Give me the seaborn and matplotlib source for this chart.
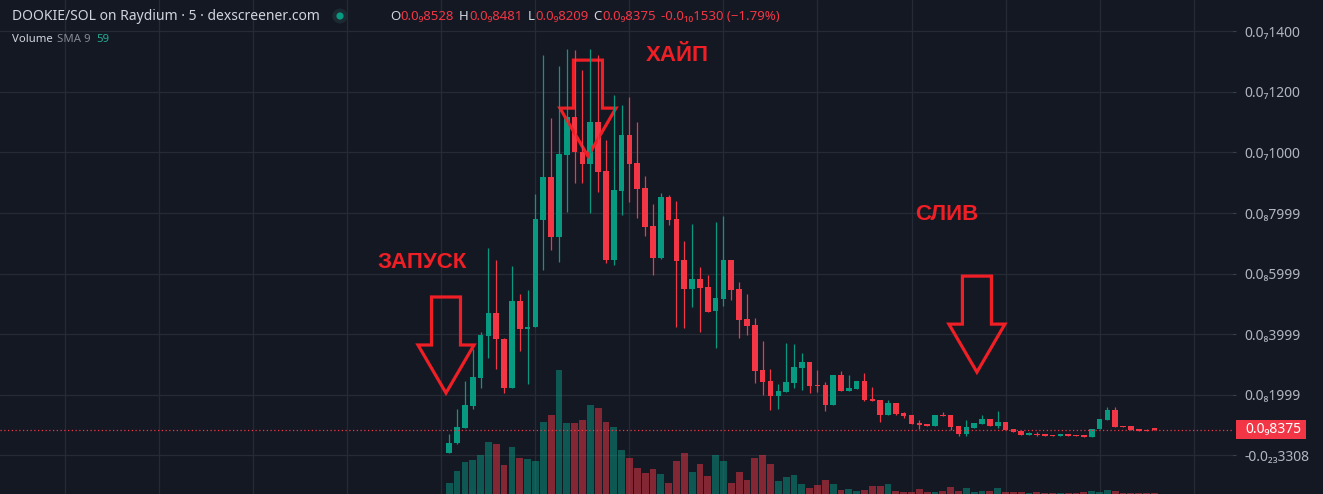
import numpy as np
import pandas as pd
import matplotlib
matplotlib.use("Agg")
import matplotlib.pyplot as plt
import seaborn as sns
from matplotlib.transforms import Affine2D, ScaledTranslation, blended_transform_factory, IdentityTransform
from matplotlib.patches import Polygon, Rectangle, Circle

# ---------------- data (price in units of 1e-9 SOL) ----------------
opens = [0.06, 0.39, 0.90, 1.63, 2.56, 3.94, 4.68, 3.84, 2.23, 5.09,
         4.16, 4.22, 7.77, 9.20, 7.22, 9.92, 11.18, 10.03, 9.62, 11.02,
         9.39, 6.45, 8.73, 10.58, 9.64, 8.83, 7.57, 6.51, 8.54, 7.80,
         6.46, 5.49, 5.82, 5.56, 4.76, 5.16, 6.45, 5.49, 4.50, 4.30,
         2.81, 2.45, 1.95, 2.08, 2.38, 2.88, 3.08, 2.31, 2.31, 1.65,
         2.65, 2.12, 2.18, 2.45, 1.85, 1.82, 1.32, 1.72, 1.39, 1.32,
         1.06, 1.03, 0.96, 1.32, 1.32, 0.96, 0.69, 0.89, 1.03, 1.19,
         0.96, 1.09, 0.86, 0.80, 0.66, 0.69, 0.69, 0.66, 0.63, 0.69,
         0.66, 0.66, 0.60, 0.86, 1.16, 1.49, 0.96, 0.96, 0.86, 0.83,
         0.8528]
highs = [0.68, 1.52, 2.45, 3.50, 4.06, 6.83, 6.45, 3.86, 6.25, 5.32,
         5.46, 8.63, 13.22, 11.15, 12.86, 13.41, 13.39, 12.73, 13.41, 13.22,
         10.41, 11.90, 11.57, 11.83, 11.02, 9.22, 8.30, 8.66, 8.60, 8.40,
         7.08, 7.64, 6.22, 5.95, 7.70, 7.90, 6.45, 5.71, 5.32, 4.53,
         3.77, 2.84, 2.35, 3.70, 3.68, 3.38, 3.08, 2.81, 2.41, 2.65,
         2.78, 2.65, 2.45, 2.71, 2.25, 1.82, 1.82, 1.72, 1.43, 1.32,
         1.16, 1.03, 1.32, 1.42, 1.32, 0.96, 1.16, 1.06, 1.32, 1.19,
         1.46, 1.09, 0.86, 0.80, 0.75, 0.75, 0.69, 0.66, 0.69, 0.69,
         0.66, 0.66, 0.86, 1.19, 1.59, 1.59, 0.96, 0.96, 0.86, 0.85,
         0.8528]
lows = [0.06, 0.36, 0.88, 1.51, 2.23, 3.22, 2.84, 2.04, 2.23, 3.45,
        2.34, 4.22, 6.12, 6.78, 6.39, 8.04, 9.00, 9.00, 7.99, 8.70,
        6.34, 6.28, 7.93, 8.37, 7.83, 7.24, 5.95, 6.48, 7.60, 4.24,
        4.21, 4.90, 4.08, 4.74, 3.55, 4.94, 5.12, 3.88, 3.97, 2.39,
        1.97, 1.49, 1.52, 2.08, 2.22, 2.15, 2.06, 2.09, 1.46, 1.65,
        2.12, 2.12, 2.18, 1.79, 1.79, 1.09, 1.32, 1.32, 1.22, 1.03,
        0.86, 0.96, 0.96, 1.29, 0.83, 0.63, 0.63, 0.89, 1.03, 0.96,
        0.89, 0.83, 0.76, 0.66, 0.66, 0.63, 0.63, 0.63, 0.63, 0.63,
        0.63, 0.60, 0.60, 0.86, 1.16, 0.93, 0.93, 0.83, 0.79, 0.79,
        0.8209]
closes = [0.39, 0.92, 1.65, 2.57, 3.97, 4.68, 3.83, 2.23, 5.09, 4.16,
          4.22, 7.80, 9.20, 7.22, 9.95, 11.18, 10.03, 9.62, 11.02, 9.37,
          6.45, 8.76, 10.58, 9.62, 8.79, 7.55, 6.51, 8.54, 7.77, 6.42,
          5.49, 5.82, 5.52, 4.74, 5.20, 6.45, 5.46, 4.46, 4.28, 2.79,
          2.41, 1.95, 2.12, 2.41, 2.91, 3.08, 2.28, 2.28, 1.65, 2.65,
          2.12, 2.22, 2.45, 1.82, 1.79, 1.32, 1.72, 1.36, 1.29, 1.03,
          0.99, 0.96, 1.32, 1.29, 0.93, 0.69, 0.93, 1.06, 1.19, 0.96,
          1.09, 0.83, 0.76, 0.66, 0.72, 0.66, 0.63, 0.63, 0.69, 0.63,
          0.63, 0.60, 0.86, 1.19, 1.49, 0.93, 0.93, 0.83, 0.79, 0.80,
          0.8375]
volumes = [12, 24, 33, 35, 40, 53, 51, 30, 48, 37,
           36, 34, 73, 80, 125, 72, 72, 75, 90, 87,
           73, 68, 45, 37, 27, 22, 26, 21, 12, 34,
           42, 23, 31, 19, 40, 34, 12, 23, 15, 37,
           40, 31, 14, 18, 20, 11, 7, 10, 15, 11,
           5, 6, 4, 5, 9, 9, 11, 4, 3, 3,
           6, 3, 3, 4, 8, 4, 7, 3, 4, 4,
           7, 3, 3, 3, 2, 3, 2, 2, 2, 2,
           2, 3, 4, 3, 5, 4, 2, 2, 2, 2, 2]

price_ticks = [14, 12, 10, 7.999, 5.999, 3.999, 1.999, 0]
price_tick_labels = ["0.0\u20871400", "0.0\u20871200", "0.0\u20871000", "0.0\u20887999",
                     "0.0\u20885999", "0.0\u20883999", "0.0\u20881999", "-0.0\u2082\u20833308"]
last_price = 0.8375
last_price_label = "0.0\u20898375"

title_text = "DOOKIE/SOL on Raydium \u00b7 5 \u00b7 dexscreener.com"
ohlc_parts = [("O", "0.0\u20898528"), ("H", "0.0\u20898481"), ("L", "0.0\u20898209"), ("C", "0.0\u20898375")]
change_text = "-0.0\u2081\u20801530 (\u22121.79%)"

annotations = [("ЗАПУСК", -3.48, 6.18, -0.42, 2.05),
               ("ХАЙП", 29.07, 13.02, 17.70, 9.88),
               ("СЛИВ", 63.53, 7.77, 67.35, 2.74)]

# ---------------- style ----------------
sns.set_theme(style="dark")
plt.rcParams['font.family'] = ['Noto Sans', 'DejaVu Sans']

BG = '#141823'
GRID = '#262a35'
UP = '#089981'
DN = '#f23645'
TXT = '#d1d4dc'
AXT = '#b2b5be'
ANN = '#f01e25'

n = len(opens)
df = pd.DataFrame({'idx': np.arange(n), 'open': opens, 'high': highs,
                   'low': lows, 'close': closes, 'volume': volumes})
df['dir'] = np.where(df['close'] >= df['open'], 'up', 'down')

W, H = 1323, 494
fig = plt.figure(figsize=(W / 100, H / 100), dpi=100, facecolor=BG)
rect = [0, 0, 1232 / W, 1]
ax_bg = fig.add_axes(rect)
ax_vol = fig.add_axes(rect)
ax = fig.add_axes(rect)
ax_bg.set_zorder(0)
ax_vol.set_zorder(1)
ax.set_zorder(2)
ax_bg.set_facecolor(BG)
ax_vol.patch.set_visible(False)
ax.patch.set_visible(False)

XLIM = (-57.35, 99.91)
YLIM = (-1.289, 15.041)
VLIM = (1, 495)

# background grid + price scale
grid_idx = np.arange(-49, 100, 12)
ax_bg.set_xticks(grid_idx)
ax_bg.set_yticks(price_ticks)
ax_bg.set_yticklabels(price_tick_labels)
ax_bg.yaxis.tick_right()
ax_bg.grid(True, color=GRID, linewidth=0.9)
ax_bg.tick_params(axis='x', length=0, labelbottom=False)
ax_bg.tick_params(axis='y', length=3, width=0.8, color='#3a3e4a', labelcolor=AXT,
                  labelsize=10, pad=6, right=True, left=False, labelright=True, labelleft=False)
for s in ax_bg.spines.values():
    s.set_visible(False)
ax_bg.set_xlim(XLIM)
ax_bg.set_ylim(YLIM)

# volume bars
sns.barplot(data=df, x='idx', y='volume', hue='dir', palette={'up': UP, 'down': DN},
            native_scale=True, width=0.86, dodge=False, legend=False, errorbar=None,
            saturation=1, alpha=0.5, linewidth=0, ax=ax_vol)
ax_vol.set_xlim(XLIM)
ax_vol.set_ylim(VLIM)
ax_vol.set_axis_off()

# candles
colors = np.where(df['dir'] == 'up', UP, DN)
ax.vlines(df['idx'], df['low'], df['high'], colors=colors, linewidth=0.9)
body_bottom = np.minimum(df['open'], df['close'])
body_h = np.maximum((df['close'] - df['open']).abs(), 0.04)
ax.bar(df['idx'], body_h, bottom=body_bottom, width=0.72, color=colors, linewidth=0)
ax.axhline(last_price, color=DN, linewidth=0.9, linestyle=(0, (1, 2)))
ax.set_xlim(XLIM)
ax.set_ylim(YLIM)
ax.set_axis_off()

# last price label box
bt = blended_transform_factory(ax_bg.transAxes, ax_bg.transData)
box_tr = Affine2D() + ScaledTranslation(1.0, last_price, bt)
ax_bg.add_artist(Rectangle((4, -9.5), 70, 19, transform=box_tr, facecolor=DN,
                           edgecolor='none', clip_on=False))
ax_bg.text(1245 / 1232, last_price, last_price_label, transform=bt, color='white',
           fontsize=10, fontweight='bold', va='center', ha='left', clip_on=False)

# annotations
for label, tx, ty, ax_i, ax_v in annotations:
    ax.text(tx, ty, label, color=ANN, fontsize=16, fontweight='bold',
            family='Liberation Sans', ha='center', va='baseline')
    hw, sw, hh, sh = 28, 14.5, 48, 48
    verts = [(0, 0), (hw, hh), (sw, hh), (sw, hh + sh), (-sw, hh + sh), (-sw, hh), (-hw, hh)]
    tr = Affine2D() + ScaledTranslation(ax_i, ax_v, ax.transData)
    ax.add_artist(Polygon(verts, closed=True, fill=False, edgecolor=ANN, linewidth=2.3,
                          joinstyle='miter', transform=tr, clip_on=False))

# header
fx = lambda x: x / W
fy = lambda y: 1 - y / H
renderer = fig.canvas.get_renderer()


def chain(x0, y, pieces, size):
    """Place text pieces one after another (pixel x, gaps in pixels)."""
    x = x0
    for txt, color, gap in pieces:
        x += gap
        t = fig.text(fx(x), fy(y), txt, color=color, fontsize=size, va='center', ha='left')
        x = t.get_window_extent(renderer).x1
    return x


fig.text(fx(12), fy(16), title_text, color=TXT, fontsize=10, va='center', ha='left')
fig.add_artist(Circle((340, H - 16), 7.5, transform=IdentityTransform(), facecolor='#1c2a31', edgecolor='none'))
fig.add_artist(Circle((340, H - 16), 3.6, transform=IdentityTransform(), facecolor=UP, edgecolor='none'))
pieces = []
for k, (lab, val) in enumerate(ohlc_parts):
    pieces.append((lab, TXT, 0 if k == 0 else 5))
    pieces.append((val, DN, 0.5))
pieces.append((change_text, DN, 5))
chain(390, 16, pieces, 9.5)
chain(12, 39, [("Volume", TXT, 0), ("SMA 9", '#868993', 4), ("59", '#22ab94', 6)], 8.2)

fig.savefig('out.png', dpi=100, facecolor=BG)
